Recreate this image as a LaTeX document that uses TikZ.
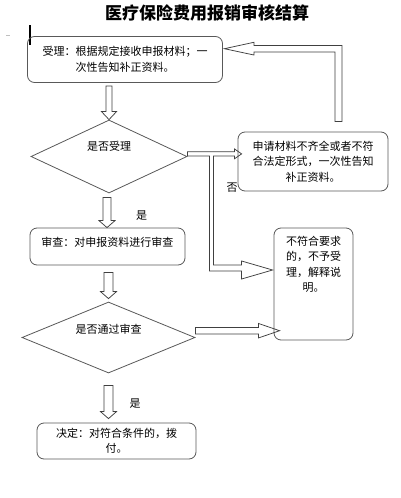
\documentclass[tikz,border=0pt]{standalone}
\usepackage{fontspec}
\newfontfamily\cjk{Noto Sans CJK SC}
\usetikzlibrary{shapes.geometric,calc}
\tikzset{
  box/.style={draw=black!65, line width=0.8pt, rounded corners=7pt, inner sep=0pt},
  dia/.style={draw=black!65, line width=0.8pt, diamond, inner sep=0pt},
  txt/.style={font=\cjk\fontsize{11}{15.5}\selectfont, align=center, inner sep=0pt},
  ttl/.style={font=\cjk\bfseries\fontsize{17}{20}\selectfont, inner sep=0pt},
  blk/.style={draw=black!75, line width=0.75pt, line join=miter},
}
% vertical hollow arrow: #1 start, #2 end (x from #1), #3 shaft half, #4 head half, #5 head length
\newcommand\vblk[5]{%
  \draw[blk] let \p1=(#1), \p2=(#2) in
    (\x1-#3,\y1) -- (\x1+#3,\y1) -- (\x1+#3,\y2+#5) -- (\x1+#4,\y2+#5) --
    (\x1,\y2) -- (\x1-#4,\y2+#5) -- (\x1-#3,\y2+#5) -- cycle;}
% horizontal hollow arrow: #1 start, #2 end (y from #1)
\newcommand\hblk[5]{%
  \draw[blk] let \p1=(#1), \p2=(#2) in
    (\x1,\y1+#3) -- (\x2-#5,\y1+#3) -- (\x2-#5,\y1+#4) -- (\x2,\y1) --
    (\x2-#5,\y1-#4) -- (\x2-#5,\y1-#3) -- (\x1,\y1-#3) -- cycle;}
\begin{document}
\begin{tikzpicture}[x=1pt,y=-1pt]
\useasboundingbox[fill=white] (0,0) rectangle (400,498);

% title
\node[ttl] (title) at (207,13) {医疗保险费用报销审核结算};

% cursor marks
\draw[black, line width=1.8pt] (30,25) -- (30,45);
\draw[black!25, line width=1pt] (6,35) -- (10,35);

% boxes
\node[box, txt, minimum width=195pt, minimum height=46pt] (b1) at (125,59.5)
  {受理：根据规定接收申报材料；一\\次性告知补正资料。};
\node[dia, minimum width=156pt, minimum height=73pt] (d1) at (109,156.5) {};
\node[txt] (d1t) at ($(d1.center)+(0,-10.5)$) {是否受理};

\node[box, txt, minimum width=150pt, minimum height=59pt] (b2) at (313,161.5)
  {申请材料不齐全或者不符\\合法定形式，一次性告知\\补正资料。};

\node[box, minimum width=79pt, minimum height=112pt] (b3) at (313.5,284) {};
\node[txt, anchor=north] (b3t) at ($(b3.north)+(0,8)$)
  {不符合要求\\的，不予受\\理，解释说\\明。};

\node[box, minimum width=155pt, minimum height=37pt] (b4) at (107.5,246.5) {};
\node[txt] (b4t) at ($(b4.center)+(0,-4)$) {审查：对申报资料进行审查};

\node[dia, minimum width=173pt, minimum height=71pt] (d2) at (108.5,337.5) {};
\node[txt] (d2t) at ($(d2.center)+(0,-8.5)$) {是否通过审查};

\node[box, txt, minimum width=159pt, minimum height=36pt] (b5) at (116.5,441)
  {决定：对符合条件的，拨\\付。};

% labels
\node[txt] (no1) at (232,188) {否};
\node[txt] (yes1) at (141.5,216) {是};
\node[txt] (yes2) at (135,404) {是};

% vertical hollow arrows
\vblk{$(d1.north|-b1.south)+(0,3)$}{d1.north}{3pt}{7.5pt}{8pt}
\vblk{$(d1.south)+(-2,4)$}{d1.south|-b4.north}{4pt}{8pt}{7pt}
\vblk{$(d2.north|-b4.south)+(0,7)$}{$(d2.north)+(0,-3)$}{4.5pt}{8pt}{7pt}
\vblk{$(d2.south)+(0,12)$}{$(d2.south|-b5.north)+(0,-4)$}{4.5pt}{8pt}{7pt}

% horizontal hollow arrow d2 -> b3
\hblk{$(d2.east)+(0,-6.8)$}{$(b3.west)+(6,0)$}{3.3pt}{7.2pt}{21pt}

% split arrow d1 -> b2 and d1 -> b3
\draw[blk] let \p1=(d1.east), \p2=(b2.west), \p3=(b3.west) in
  (\x1,\y1+4.8pt) -- (\x2-3pt,\y1+4.8pt) -- (\x2-3pt,\y1+7.5pt) --
  (\x2+4pt,\y1+2.6pt) -- (\x2-3pt,\y1-2.2pt) -- (\x2-3pt,\y1+0.5pt) --
  (\x1+26pt,\y1+0.5pt) -- (\x1+26pt,\y3+19pt) -- (\x3-32pt,\y3+19pt) --
  (\x3-32pt,\y3+23pt) -- (\x3-1pt,\y3+14pt) -- (\x3-32pt,\y3+5pt) --
  (\x3-32pt,\y3+13pt) -- (\x1+22pt,\y3+13pt) -- (\x1+22pt,\y1+0.5pt) --
  (\x1,\y1+0.5pt) -- cycle;

% loop arrow b2 -> b1
\draw[blk] let \p1=(b2.north), \p2=(b1.east) in
  (\x1+22pt,\y1+10pt) -- (\x1+22pt,\y2+7.5pt) -- (\x2+31pt,\y2+7.5pt) --
  (\x2+31pt,\y2+4.5pt) -- (\x2+1.5pt,\y2+10.8pt) -- (\x2+31pt,\y2+17.2pt) --
  (\x2+31pt,\y2+14pt) -- (\x1+29pt,\y2+14pt) -- (\x1+29pt,\y1+10pt) -- cycle;
\end{tikzpicture}
\end{document}
